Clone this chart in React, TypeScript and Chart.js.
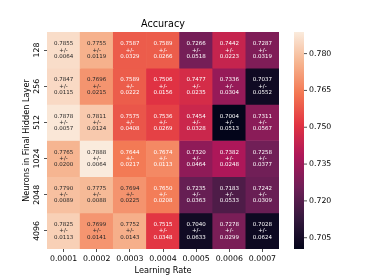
import React, { useEffect, useRef } from 'react';
import { Chart, registerables } from 'chart.js';

Chart.register(...registerables);

const LEARNING_RATES = ['0.0001', '0.0002', '0.0003', '0.0004', '0.0005', '0.0006', '0.0007'];
const NEURONS = ['128', '256', '512', '1024', '2048', '4096'];

const ACC_128 = [0.7855, 0.7755, 0.7587, 0.7589, 0.7266, 0.7442, 0.7287];
const ACC_256 = [0.7847, 0.7696, 0.7589, 0.7506, 0.7477, 0.7336, 0.7037];
const ACC_512 = [0.7878, 0.7811, 0.7575, 0.7536, 0.7454, 0.7004, 0.7311];
const ACC_1024 = [0.7765, 0.7888, 0.7644, 0.7674, 0.7320, 0.7382, 0.7258];
const ACC_2048 = [0.7790, 0.7775, 0.7694, 0.7650, 0.7235, 0.7183, 0.7242];
const ACC_4096 = [0.7825, 0.7699, 0.7752, 0.7515, 0.7040, 0.7278, 0.7028];

const STD_128 = [0.0064, 0.0119, 0.0329, 0.0266, 0.0518, 0.0223, 0.0319];
const STD_256 = [0.0115, 0.0215, 0.0222, 0.0156, 0.0235, 0.0304, 0.0552];
const STD_512 = [0.0057, 0.0124, 0.0408, 0.0269, 0.0328, 0.0513, 0.0567];
const STD_1024 = [0.0200, 0.0064, 0.0217, 0.0113, 0.0464, 0.0248, 0.0377];
const STD_2048 = [0.0089, 0.0088, 0.0225, 0.0208, 0.0363, 0.0533, 0.0309];
const STD_4096 = [0.0113, 0.0141, 0.0143, 0.0348, 0.0633, 0.0299, 0.0624];

const MEANS = [ACC_128, ACC_256, ACC_512, ACC_1024, ACC_2048, ACC_4096];
const STDS = [STD_128, STD_256, STD_512, STD_1024, STD_2048, STD_4096];

const COLOR_MIN = 0.7004;
const COLOR_MAX = 0.7888;
const COLORBAR_TICKS = [0.705, 0.72, 0.735, 0.75, 0.765, 0.78];

const FONT = '"DejaVu Sans", sans-serif';
const DARK = '#262626';
const TICK_SIZE = 7.8;
const LABEL_SIZE = 8.2;

// approximate seaborn "rocket" colormap
const ROCKET = [
  [3, 5, 26],
  [53, 25, 62],
  [112, 31, 87],
  [173, 23, 89],
  [225, 51, 66],
  [243, 118, 81],
  [246, 180, 143],
  [250, 235, 221],
];

function rocketRGB(t: number): number[] {
  const tt = Math.max(0, Math.min(1, t));
  const n = ROCKET.length - 1;
  const p = tt * n;
  const i = Math.min(n - 1, Math.floor(p));
  const f = p - i;
  const a = ROCKET[i];
  const b = ROCKET[i + 1];
  return [0, 1, 2].map((k) => a[k] + (b[k] - a[k]) * f);
}

function norm(v: number) {
  return (v - COLOR_MIN) / (COLOR_MAX - COLOR_MIN);
}

function rgbStr(c: number[]) {
  return `rgb(${Math.round(c[0])},${Math.round(c[1])},${Math.round(c[2])})`;
}

function colorFor(v: number) {
  return rgbStr(rocketRGB(norm(v)));
}

function textColorFor(v: number) {
  const c = rocketRGB(norm(v)).map((x) => {
    const s = x / 255;
    return s <= 0.03928 ? s / 12.92 : Math.pow((s + 0.055) / 1.055, 2.4);
  });
  const lum = 0.2126 * c[0] + 0.7152 * c[1] + 0.0722 * c[2];
  return lum > 0.408 ? DARK : '#ffffff';
}

const heatmapPlugin = {
  id: 'heatmapExtras',
  afterDatasetsDraw(chart: any) {
    const { ctx, scales, chartArea } = chart;
    const xs = scales.x;
    const ys = scales.y;
    ctx.save();
    ctx.font = `5.5px ${FONT}`;
    ctx.textAlign = 'center';
    ctx.textBaseline = 'middle';
    MEANS.forEach((row, r) => {
      row.forEach((v, c) => {
        const cx = xs.getPixelForValue(c);
        const cy = ys.getPixelForValue(r + 0.5);
        ctx.fillStyle = textColorFor(v);
        ctx.fillText(v.toFixed(4), cx, cy - 6.3);
        ctx.fillText('+/-', cx, cy);
        ctx.fillText(STDS[r][c].toFixed(4), cx, cy + 6.3);
      });
    });

    // colorbar
    const cb = scales.cb;
    const left = chartArea.right + 15;
    const w = 10;
    const top = cb.getPixelForValue(COLOR_MAX);
    const bottom = cb.getPixelForValue(COLOR_MIN);
    const grad = ctx.createLinearGradient(0, bottom, 0, top);
    for (let i = 0; i <= 60; i++) {
      grad.addColorStop(i / 60, rgbStr(rocketRGB(i / 60)));
    }
    ctx.fillStyle = grad;
    ctx.fillRect(left, top, w, bottom - top);

    ctx.strokeStyle = DARK;
    ctx.lineWidth = 0.8;
    ctx.fillStyle = '#000';
    ctx.font = `${TICK_SIZE}px ${FONT}`;
    ctx.textAlign = 'left';
    ctx.textBaseline = 'middle';
    COLORBAR_TICKS.forEach((t) => {
      const py = cb.getPixelForValue(t);
      ctx.beginPath();
      ctx.moveTo(left + w, py);
      ctx.lineTo(left + w + 3, py);
      ctx.stroke();
      ctx.fillText(t.toFixed(3), left + w + 5, py);
    });
    ctx.restore();
  },
};

export default function App() {
  const ref = useRef<HTMLCanvasElement | null>(null);

  useEffect(() => {
    if (!ref.current) return;
    const datasets = MEANS.map((row, r) => ({
      label: NEURONS[r],
      data: row.map(() => [r, r + 1]),
      backgroundColor: row.map((v) => colorFor(v)),
      borderWidth: 0,
      barPercentage: 1,
      categoryPercentage: 1,
      grouped: false,
      yAxisID: 'y',
      xAxisID: 'x',
    }));

    const chart = new Chart(ref.current, {
      type: 'bar',
      data: { labels: LEARNING_RATES, datasets: datasets as any },
      plugins: [heatmapPlugin],
      options: {
        responsive: false,
        animation: false,
        layout: { padding: { left: 0, right: 95, top: 0, bottom: 0 } },
        plugins: {
          legend: { display: false },
          tooltip: { enabled: false },
          title: {
            display: true,
            text: 'Accuracy',
            fullSize: false,
            color: '#000',
            font: { family: FONT, size: 9.6, weight: 'normal' },
            padding: { top: 18.5, bottom: 1.98 },
          },
        },
        scales: {
          x: {
            type: 'category',
            labels: LEARNING_RATES,
            offset: true,
            grid: { offset: false, drawOnChartArea: false, tickLength: 3, color: DARK, tickWidth: 0.8 },
            border: { display: false },
            ticks: { color: '#000', font: { family: FONT, size: TICK_SIZE }, padding: 2, maxRotation: 0, minRotation: 0 },
            title: {
              display: true,
              text: 'Learning Rate',
              color: '#000',
              font: { family: FONT, size: LABEL_SIZE },
              padding: { top: 1, bottom: 4 },
            },
            afterFit: (s: any) => {
              s.height = 31;
            },
          },
          yLab: {
            type: 'category',
            labels: NEURONS,
            position: 'left',
            offset: true,
            grid: { offset: false, drawOnChartArea: false, tickLength: 3, color: DARK, tickWidth: 0.8 },
            border: { display: false },
            ticks: {
              color: '#000',
              font: { family: FONT, size: TICK_SIZE },
              padding: -2.5,
              minRotation: 90,
              maxRotation: 90,
              crossAlign: 'center',
            },
            title: {
              display: true,
              text: 'Neurons in Final Hidden Layer',
              color: '#000',
              font: { family: FONT, size: LABEL_SIZE },
              padding: { top: 22, bottom: 0 },
            },
            afterFit: (s: any) => {
              s.width = 47;
            },
          },
          y: {
            type: 'linear',
            display: false,
            min: 0,
            max: 6,
            reverse: true,
          },
          cb: {
            type: 'linear',
            axis: 'y',
            display: false,
            min: COLOR_MIN,
            max: COLOR_MAX,
          },
        } as any,
      },
    });
    return () => chart.destroy();
  }, []);

  return (
    <div style={{ position: 'fixed', left: 0, top: 0, width: 374, height: 280, background: '#fff' }}>
      <canvas ref={ref} width={374} height={280} style={{ display: 'block', width: 374, height: 280 }} />
    </div>
  );
}
